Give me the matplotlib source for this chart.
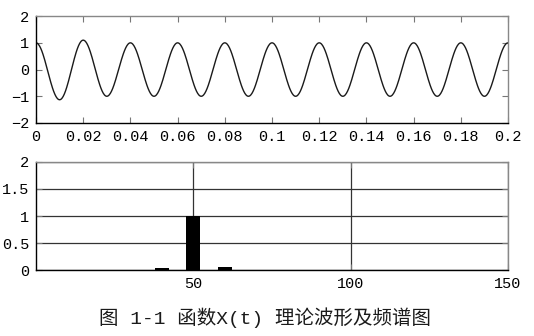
import numpy as np
import matplotlib.pyplot as plt

plt.rcParams['font.family'] = ['Liberation Mono', 'DejaVu Sans Mono']
plt.rcParams['font.size'] = 11

# waveform: peak / trough values of x(t), one every half period (50 Hz)
half_period = 0.01
extremes = [1.0, -1.13, 1.1, -1.0, 1.0, -1.0, 1.0, -1.0, 1.0, -1.0, 1.0,
            -1.0, 1.0, -1.0, 1.0, -1.0, 1.0, -1.0, 1.0, -1.0, 1.0]

# spectrum lines
freqs = [40, 50, 60]
amps = [0.04, 1.0, 0.055]

# smooth half-cosine between successive extremes
t = []
x = []
for k in range(len(extremes) - 1):
    e0, e1 = extremes[k], extremes[k + 1]
    tt = np.linspace(0, half_period, 40, endpoint=False)
    t.extend(k * half_period + tt)
    x.extend((e0 + e1) / 2 + (e0 - e1) / 2 * np.cos(np.pi * tt / half_period))
t.append((len(extremes) - 1) * half_period)
x.append(extremes[-1])

fig = plt.figure(figsize=(5.34, 3.36), dpi=100)

def style_axes(ax):
    for side in ['top', 'right']:
        ax.spines[side].set_color('#888888')
    for side in ['left', 'bottom']:
        ax.spines[side].set_color('black')
    for s in ax.spines.values():
        s.set_linewidth(1.0)
    ax.tick_params(direction='in', top=True, right=True, length=4,
                   color='#777777', pad=5)

ax1 = fig.add_axes([0.0674, 0.634, 0.884, 0.318])
ax1.plot(t, x, color='#1a1a1a', lw=1.0)
ax1.set_xlim(0, 0.2)
ax1.set_ylim(-2, 2)
ax1.set_xticks(np.arange(0, 0.201, 0.02))
ax1.set_xticklabels(['0', '0.02', '0.04', '0.06', '0.08', '0.1',
                     '0.12', '0.14', '0.16', '0.18', '0.2'])
ax1.set_yticks([-2, -1, 0, 1, 2])
style_axes(ax1)

ax2 = fig.add_axes([0.0674, 0.196, 0.884, 0.322])
ax2.bar(freqs, amps, width=4.5, color='black', zorder=3)
ax2.set_xlim(0, 150)
ax2.set_ylim(0, 2)
ax2.set_xticks([50, 100, 150])
ax2.set_yticks([0, 0.5, 1, 1.5, 2])
ax2.set_yticklabels(['0', '0.5', '1', '1.5', '2'])
ax2.grid(True, color='#333333', lw=0.9)
ax2.set_axisbelow(True)
style_axes(ax2)

fig.text(0.496, 0.054, '图 1-1 函数X(t) 理论波形及频谱图',
         family=['Liberation Mono', 'Noto Sans CJK SC'], fontsize=14,
         ha='center', va='center', color='#1a1a1a')

fig.savefig('out.png', dpi=100)
